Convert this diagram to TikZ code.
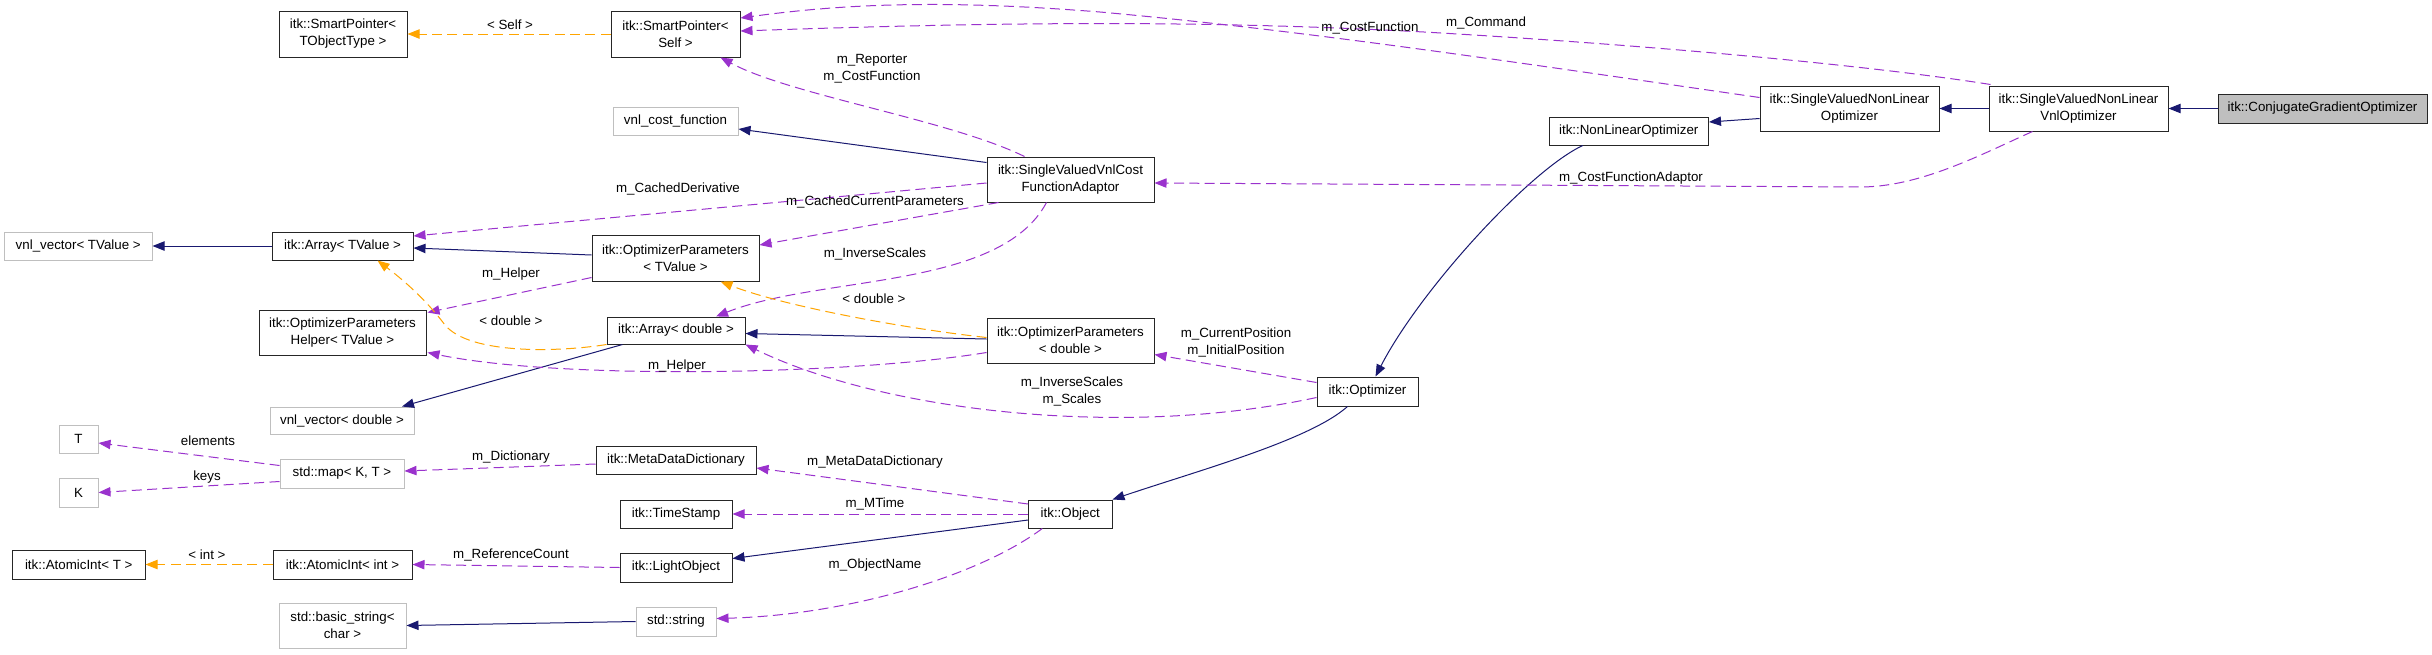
\documentclass[tikz,border=0pt]{standalone}
\usepackage{fontspec}
\setmainfont{Liberation Sans}
\usetikzlibrary{arrows.meta,calc}
\definecolor{navy}{HTML}{191970}
\definecolor{purp}{HTML}{9A32CD}
\definecolor{orng}{HTML}{FFA500}
\definecolor{gborder}{HTML}{BFBFBF}
\definecolor{gfill}{HTML}{BFBFBF}
\newcommand{\bx}[7]{%
  \node[#2, minimum width={(#5-#3)*0.75pt}, minimum height={(#6-#4)*0.75pt}] (#1) at ({(#3+#5)/2},{(#4+#6)/2}) {#7};}
\begin{document}
\begin{tikzpicture}[x=0.75pt,y=-0.75pt,
  font=\fontsize{10pt}{12.75pt}\selectfont,
  cls/.style={draw=black!85, line width=0.75pt, fill=white, inner sep=0pt, align=center},
  ext/.style={draw=gborder, line width=0.75pt, fill=white, inner sep=0pt, align=center},
  cur/.style={draw=black!85, line width=0.75pt, fill=gfill, inner sep=0pt, align=center},
  lbl/.style={inner sep=0pt, align=center},
  tip/.style={-{Triangle[length=9pt,width=7pt]}},
  inh/.style={draw=navy, line width=0.75pt, tip},
  use/.style={draw=purp, line width=0.75pt, dash pattern=on 7.5pt off 4pt, tip},
  tmpl/.style={draw=orng, line width=0.75pt, dash pattern=on 7.5pt off 4pt, tip}]
\fill[white] (0,0) rectangle (2432,654);
\useasboundingbox (0,0) rectangle (2432,654);

% nodes
\bx{spT}{cls}{279}{11}{407}{57}{itk::SmartPointer<\\TObjectType >}
\bx{spS}{cls}{611}{11}{740}{57}{itk::SmartPointer<\\Self >}
\bx{vcf}{ext}{613}{107}{738}{135}{vnl\_cost\_function}
\bx{adp}{cls}{987}{157}{1154}{202}{itk::SingleValuedVnlCost\\FunctionAdaptor}
\bx{vvT}{ext}{4.5}{232}{152}{260}{vnl\_vector< TValue >}
\bx{arT}{cls}{272}{232}{413}{260}{itk::Array< TValue >}
\bx{opT}{cls}{592}{235}{759}{281}{itk::OptimizerParameters\\< TValue >}
\bx{hlp}{cls}{259}{310}{426}{355}{itk::OptimizerParameters\\Helper< TValue >}
\bx{arD}{cls}{607}{317}{745}{344}{itk::Array< double >}
\bx{opD}{cls}{987}{318}{1154}{363}{itk::OptimizerParameters\\< double >}
\bx{vvD}{ext}{270}{407}{414}{434}{vnl\_vector< double >}
\bx{T}{ext}{59}{425}{98}{453}{T}
\bx{K}{ext}{59}{478}{98}{507}{K}
\bx{map}{ext}{280}{459}{404}{488}{std::map< K, T >}
\bx{mdd}{cls}{596}{446}{756}{474}{itk::MetaDataDictionary}
\bx{ts}{cls}{620}{500}{732}{528}{itk::TimeStamp}
\bx{lo}{cls}{620}{553}{732}{582}{itk::LightObject}
\bx{aiT}{cls}{12.5}{550}{145}{579}{itk::AtomicInt< T >}
\bx{aiI}{cls}{273}{550}{412}{579}{itk::AtomicInt< int >}
\bx{str}{ext}{636}{607}{716}{636}{std::string}
\bx{bs}{ext}{279}{603}{406}{648}{std::basic\_string<\\char >}
\bx{obj}{cls}{1028.6}{500}{1112}{528}{itk::Object}
\bx{opt}{cls}{1317}{377}{1418}{406}{itk::Optimizer}
\bx{nlo}{cls}{1549}{117}{1708.5}{145}{itk::NonLinearOptimizer}
\bx{svo}{cls}{1760}{86}{1939}{131}{itk::SingleValuedNonLinear\\Optimizer}
\bx{svv}{cls}{1989}{86}{2168}{131}{itk::SingleValuedNonLinear\\VnlOptimizer}
\bx{cgo}{cur}{2218}{94}{2427}{123}{itk::ConjugateGradientOptimizer}

% inheritance (solid navy)
\draw[inh] (cgo.west) -- (svv.east);
\draw[inh] (svv.west) -- (svo.east);
\draw[inh] ($(svo.west)+(0,10)$) -- ($(nlo.east)+(0,-9)$);
\draw[inh] ($(nlo.south)+(-46,0)$) .. controls (1530,170) and (1420,290) .. ($(opt.north)+(8,0)$);
\draw[inh] ($(opt.south)+(-20,0)$) .. controls (1310,440) and (1200,470) .. (obj.north east);
\draw[inh] ($(obj.west)+(0,6)$) -- ($(lo.east)+(0,-9)$);
\draw[inh] (str.west) -- (bs.east);
\draw[inh] ($(adp.west)+(0,-17)$) -- ($(vcf.east)+(0,8)$);
\draw[inh] ($(opT.west)+(0,-3)$) -- ($(arT.east)+(0,2)$);
\draw[inh] (arT.west) -- (vvT.east);
\draw[inh] ($(opD.west)+(0,-1.5)$) -- ($(arD.east)+(0,3)$);
\draw[inh] ($(arD.south west)+(16,0)$) -- ($(vvD.north)+(60,0)$);

% usage (purple dashed)
\draw[use] ($(svo.north west)+(0,12)$) .. controls (1500,60) and (1300,30) .. (1100,12) .. controls (950,0) and (850,3) .. ($(spS.east)+(0,-16)$);
\draw[use] ($(svv.north west)+(2,-1)$) .. controls (1900,70) and (1700,48) .. (1424,32) .. controls (1200,20) and (1000,22) .. ($(spS.east)+(0,-3)$);
\draw[use] ($(adp.north)+(-46,0)$) .. controls (950,120) and (790,95) .. ($(spS.south)+(45,0)$);
\draw[use] ($(svv.south)+(-46,0)$) .. controls (1980,155) and (1920,187) .. (1860,187) -- ($(adp.east)+(0,3.5)$);
\draw[use] ($(adp.west)+(0,3.5)$) -- ($(arT.east)+(0,-10)$);
\draw[use] ($(adp.south west)+(12,0)$) -- ($(opT.east)+(0,-13)$);
\draw[use] ($(adp.south)+(-24,0)$) .. controls (1000,290) and (820,275) .. ($(arD.north)+(40,0)$);
\draw[use] ($(opT.south west)+(0,-4)$) -- ($(hlp.north east)+(1,3)$);
\draw[use] ($(opD.west)+(0,12)$) .. controls (850,375) and (560,380) .. ($(hlp.east)+(1,20)$);
\draw[use] ($(opt.west)+(0,-9)$) -- ($(opD.east)+(0,14)$);
\draw[use] ($(opt.west)+(0,6)$) .. controls (1120,440) and (880,410) .. (arD.south east);
\draw[use] ($(obj.west)+(0,-10)$) -- ($(mdd.east)+(0,8)$);
\draw[use] (obj.west) -- (ts.east);
\draw[use] ($(obj.south)+(-28,0)$) .. controls (980,575) and (850,615) .. ($(str.east)+(0,-3)$);
\draw[use] (lo.west) -- (aiI.east);
\draw[use] ($(mdd.west)+(0,4)$) -- ($(map.east)+(0,-2.5)$);
\draw[use] ($(map.west)+(0,-8)$) -- ($(T.east)+(0,4)$);
\draw[use] ($(map.west)+(0,8)$) -- (K.east);

% template (orange dashed)
\draw[tmpl] (spS.west) -- (spT.east);
\draw[tmpl] ($(opD.west)+(0,-3)$) .. controls (900,328) and (780,305) .. ($(opT.south)+(45,0)$);
\draw[tmpl] (arD.south west) .. controls (560,352) and (470,355) .. (445,325) .. controls (430,305) and (410,285) .. ($(arT.south)+(35,0)$);
\draw[tmpl] (aiI.west) -- (aiT.east);

% labels
\node[lbl] (l01) at (510,25) {< Self >};
\node[lbl] (l02) at (1370,28) {m\_CostFunction};
\node[lbl] (l03) at (1486,23) {m\_Command};
\node[lbl] (l04) at (872,69) {m\_Reporter\\m\_CostFunction};
\node[lbl] (l05) at (1631,178) {m\_CostFunctionAdaptor};
\node[lbl] (l06) at (678,189) {m\_CachedDerivative};
\node[lbl] (l07) at (875,202) {m\_CachedCurrentParameters};
\node[lbl] (l08) at (875,254) {m\_InverseScales};
\node[lbl] (l09) at (511,274) {m\_Helper};
\node[lbl] (l10) at (874,299) {< double >};
\node[lbl] (l11) at (511,321) {< double >};
\node[lbl] (l12) at (677,366) {m\_Helper};
\node[lbl] (l13) at (1236,342) {m\_CurrentPosition\\m\_InitialPosition};
\node[lbl] (l14) at (1072,391.5) {m\_InverseScales\\m\_Scales};
\node[lbl] (l15) at (208,441) {elements};
\node[lbl] (l16) at (207,477) {keys};
\node[lbl] (l17) at (511,457) {m\_Dictionary};
\node[lbl] (l18) at (875,462) {m\_MetaDataDictionary};
\node[lbl] (l19) at (875,504) {m\_MTime};
\node[lbl] (l20) at (875,565) {m\_ObjectName};
\node[lbl] (l21) at (207,555) {< int >};
\node[lbl] (l22) at (511,555) {m\_ReferenceCount};
\end{tikzpicture}
\end{document}
